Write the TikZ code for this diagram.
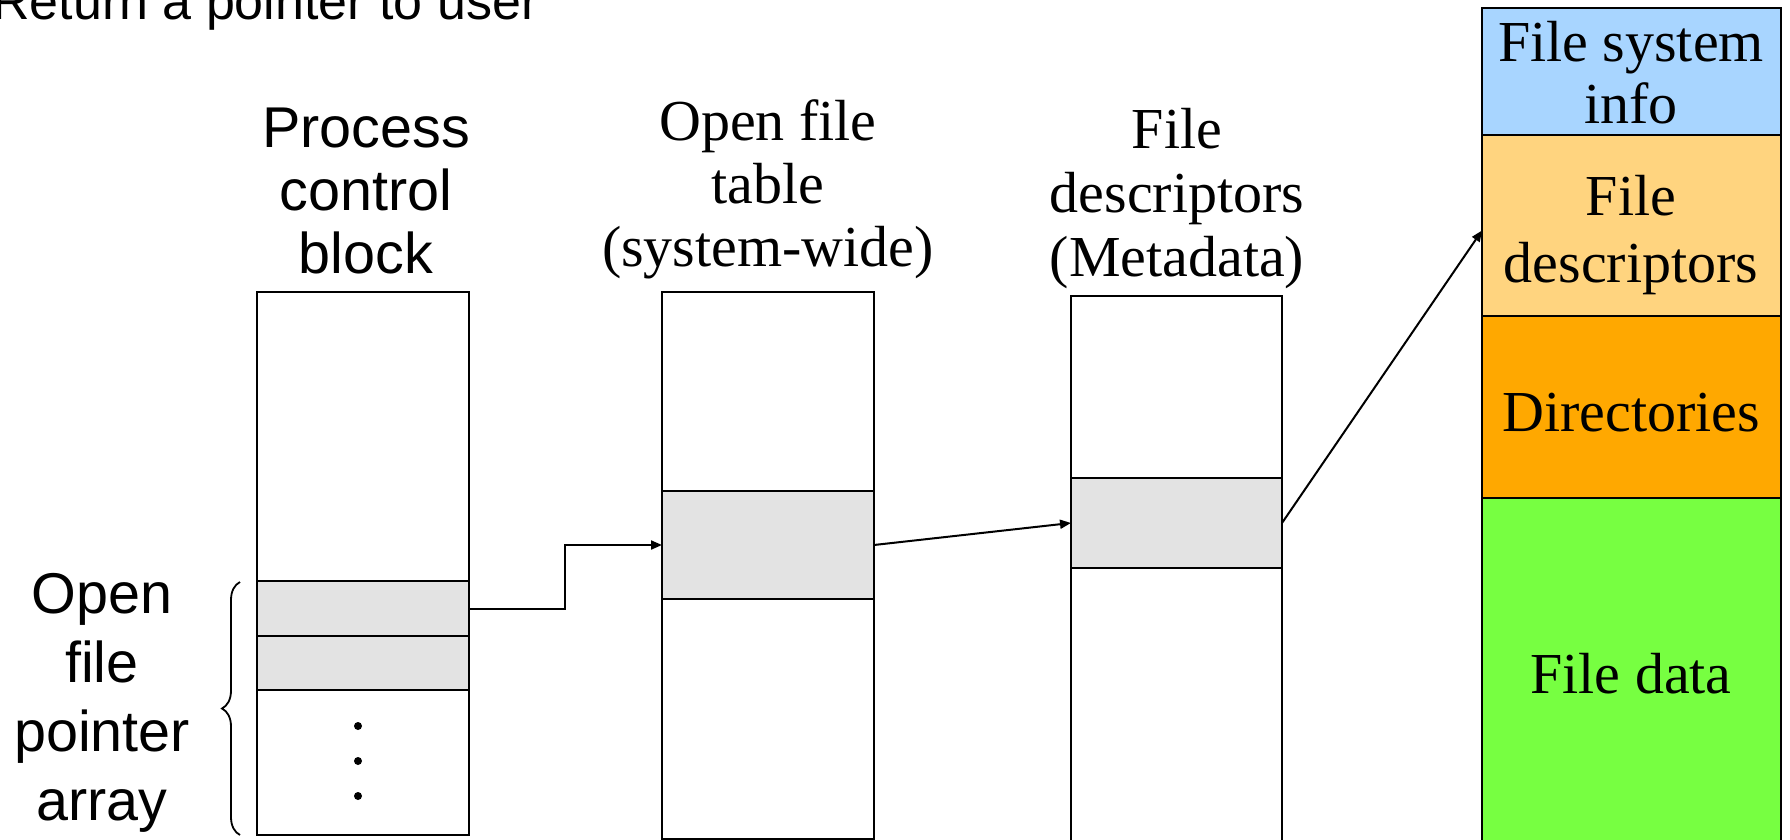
\documentclass[tikz,border=0pt]{standalone}
\usepackage{fontspec}
\setmainfont{Liberation Serif}
\setsansfont{Liberation Sans}
\usetikzlibrary{arrows.meta,decorations.pathreplacing}
\definecolor{rowgray}{HTML}{E3E3E3}
\definecolor{fsblue}{HTML}{A8D5FF}
\definecolor{fdorange}{HTML}{FFD47F}
\definecolor{dirorange}{HTML}{FFA800}
\definecolor{datagreen}{HTML}{77FF41}
\newcommand{\mlines}[3][57.5]{\fontsize{#1}{#2}\selectfont\setlength{\tabcolsep}{0pt}\begin{tabular}[t]{c}#3\end{tabular}}
\begin{document}
\begin{tikzpicture}[x=1pt,y=-1pt,
  box/.style={draw, line width=2.2pt, rectangle, inner sep=0pt, outer sep=0pt, anchor=north west},
  rowbox/.style={box, fill=rowgray},
  colbox/.style={box, line width=2pt},
  dotnode/.style={circle, fill=black, inner sep=0pt, minimum size=8pt},
  link/.style={line width=2pt, -{Triangle[length=11pt,width=9pt]}},
  sanslbl/.style={font=\sffamily, anchor=base, inner sep=0pt},
  seriflbl/.style={font=\rmfamily, anchor=base, inner sep=0pt}]
\clip (0,0) rectangle (1790,840);
\fill[white] (0,0) rectangle (1790,840);

% title (cut at top, as in the reference)
\node[font=\sffamily\fontsize{52}{60}\selectfont, anchor=base west, inner sep=0pt] (ret) at (-8,20) {Return a pointer to user};

% Process control block
\node[box, minimum width=212pt, minimum height=543pt] (pcb) at (257,292) {};
\node[rowbox, minimum width=212pt, minimum height=55pt] (pcbA) at (257,581) {};
\node[rowbox, minimum width=212pt, minimum height=54pt] (pcbB) at (257,636) {};
\node[dotnode] (dot1) at (358,726) {};
\node[dotnode] (dot2) at (358,761) {};
\node[dotnode] (dot3) at (358,796) {};
\node[sanslbl] (pcblbl) at (366,147) {\mlines{63}{Process\\control\\block}};

% brace and its label
\coordinate (braceBot) at (240,835);
\coordinate (braceTop) at (240,582);
\draw[line width=1.8pt, decorate, decoration={brace, amplitude=18pt}] (braceBot) -- (braceTop);
\node[sanslbl] (arrlbl) at (102,613) {\mlines{69}{Open\\file\\pointer\\array}};

% Open file table
\node[box, minimum width=212pt, minimum height=547pt] (otf) at (662,292) {};
\node[rowbox, minimum width=212pt, minimum height=108pt] (otfrow) at (662,491) {};
\node[seriflbl] (otflbl) at (768,140) {\mlines[58]{63}{Open file\\table\\(system-wide)}};

% File descriptors
\node[box, minimum width=211pt, minimum height=545pt] (fd) at (1071,296) {};
\node[rowbox, minimum width=211pt, minimum height=90pt] (fdrow) at (1071,478) {};
\node[seriflbl] (fdlbl) at (1177,148) {\mlines[58]{64}{File\\descriptors\\(Metadata)}};

% disk layout column
\node[colbox, fill=fsblue, minimum width=299pt, minimum height=127pt] (fsinfo) at (1482,8) {};
\node[colbox, fill=fdorange, minimum width=299pt, minimum height=181pt] (fsfd) at (1482,135) {};
\node[colbox, fill=dirorange, minimum width=299pt, minimum height=182pt] (dirs) at (1482,316) {};
\node[colbox, fill=datagreen, minimum width=299pt, minimum height=400pt] (fdata) at (1482,498) {};
\node[seriflbl] (fsinfolbl) at (1631,62) {\mlines[58]{62}{File system\\info}};
\node[seriflbl] (fsfdlbl) at (1631,215) {\mlines[58]{67}{File\\descriptors}};
\node[seriflbl] (dirslbl) at (1631,431) {\mlines[58]{60}{Directories}};
\node[seriflbl] (fdatalbl) at (1631,693) {\mlines[58]{60}{File data}};

% connectors
\coordinate (bend1) at (565,577);
\draw[link] (pcbA.east) -| (bend1) |- (otfrow.west);
\draw[link] (otfrow.east) -- (fdrow.west);
\draw[link] (fdrow.east) -- ([yshift=-5pt]fsfd.west);
\end{tikzpicture}
\end{document}
